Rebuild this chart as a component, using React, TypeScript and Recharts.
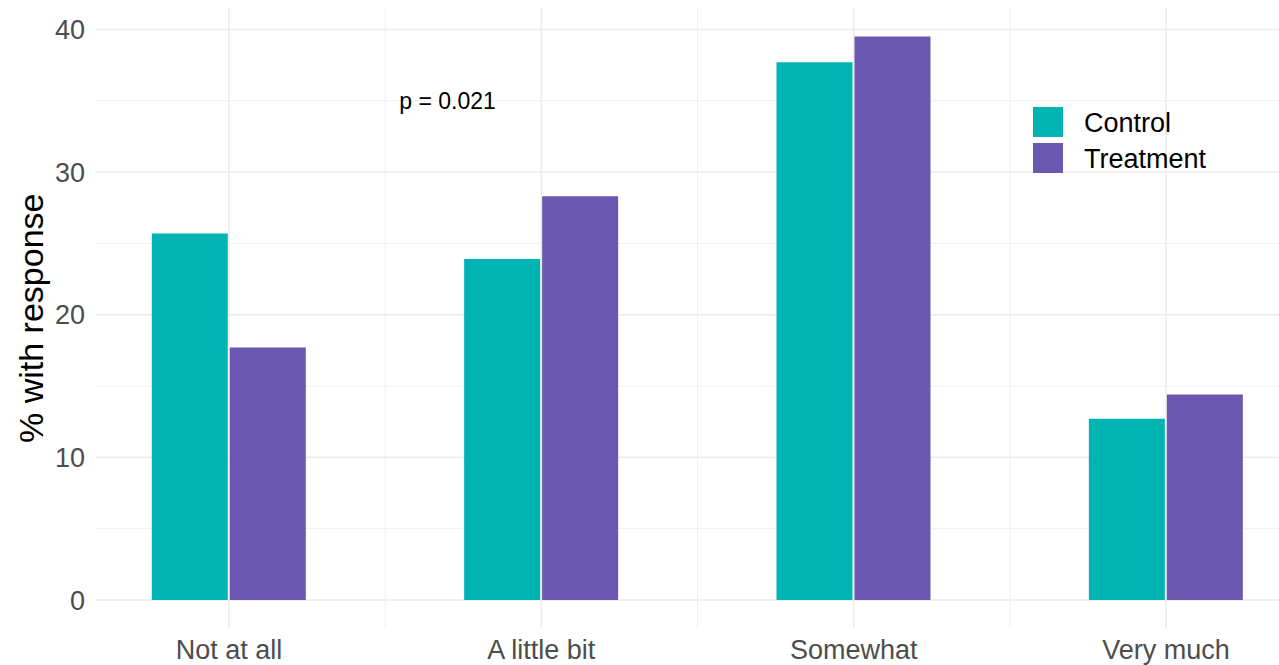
import React from 'react';
import { ComposedChart, Bar, XAxis, YAxis, CartesianGrid, ReferenceDot } from 'recharts';

const categories = ['Not at all', 'A little bit', 'Somewhat', 'Very much'];
const control = [25.7, 23.9, 37.7, 12.7];
const treatment = [17.7, 28.3, 39.5, 14.4];
const yTicks = [0, 10, 20, 30, 40];
const xTicks = [1, 2, 3, 4];
const yMinor = [5, 15, 25, 35];
const xMinor = [1.5, 2.5, 3.5];
const annotation = { x: 1.7, y: 35, text: 'p = 0.021' };
const seriesNames = ['Control', 'Treatment'];

const data = categories.map((c, i) => ({ pos: i + 1, name: c, Control: control[i], Treatment: treatment[i] }));

const FONT = 'Liberation Sans, Arial, Helvetica, sans-serif';
const TEAL = '#00B4B3';
const PURPLE = '#6A57B2';
const COLORS = [TEAL, PURPLE];

function LegendBox() {
  return (
    <svg width={220} height={72} style={{ position: 'absolute', left: 1032, top: 106, overflow: 'visible' }}>
      {seriesNames.map((name, i) => (
        <g key={name}>
          <rect x={0.5} y={i * 36 + 0.5} width={31} height={31} fill={COLORS[i]} stroke="#ffffff" strokeWidth={1} />
          <text x={52} y={i * 36 + 25.5} fontFamily={FONT} fontSize={27} fill="#000000">{name}</text>
        </g>
      ))}
    </svg>
  );
}

export default function App() {
  return (
    <div style={{ position: 'absolute', left: 0, top: 0, width: 1279, height: 665, background: '#fff' }}>
      <ComposedChart width={1279} height={665} data={data} margin={{ top: 8, right: 0, bottom: 0, left: 0 }} barGap={2}>
        <CartesianGrid stroke="#F0F0F0" strokeWidth={1} horizontalValues={yMinor} verticalValues={xMinor} />
        <CartesianGrid stroke="#EBEBEB" strokeWidth={1.5} horizontalValues={yTicks} verticalValues={xTicks} />
        <XAxis
          dataKey="pos"
          type="number"
          domain={[0.5743, 4.3617]}
          allowDataOverflow
          ticks={xTicks}
          tickFormatter={(v: number) => categories[v - 1]}
          axisLine={false}
          tickLine={false}
          tickSize={0}
          tickMargin={11.5}
          height={36.5}
          tick={{ fontFamily: FONT, fontSize: 27, fill: '#4D4D4D' }}
          interval={0}
        />
        <YAxis
          type="number"
          domain={[-2, 41.5]}
          allowDataOverflow
          ticks={yTicks}
          axisLine={false}
          tickLine={false}
          tickSize={0}
          tickMargin={11}
          width={96}
          tick={{ fontFamily: FONT, fontSize: 27, fill: '#4D4D4D' }}
          label={{
            content: (p: any) => {
              const vb = p.viewBox;
              const cy = vb.y + vb.height / 2;
              return (
                <text x={43} y={cy} transform={`rotate(-90, 43, ${cy})`} textAnchor="middle" fontFamily={FONT} fontSize={34} fill="#000000">
                  % with response
                </text>
              );
            },
          }}
        />
        <Bar dataKey="Control" fill={TEAL} barSize={76} isAnimationActive={false} />
        <Bar dataKey="Treatment" fill={PURPLE} barSize={76} isAnimationActive={false} />
        <ReferenceDot
          x={annotation.x}
          y={annotation.y}
          r={0}
          fill="none"
          stroke="none"
          label={{
            content: (p: any) => {
              const vb = p.viewBox;
              const cx = vb.x + (vb.width || 0) / 2;
              const cy = vb.y + (vb.height || 0) / 2;
              return (
                <text x={cx} y={cy + 8} textAnchor="middle" fontFamily={FONT} fontSize={23} fill="#000000">
                  {annotation.text}
                </text>
              );
            },
          }}
        />
      </ComposedChart>
      <LegendBox />
    </div>
  );
}
